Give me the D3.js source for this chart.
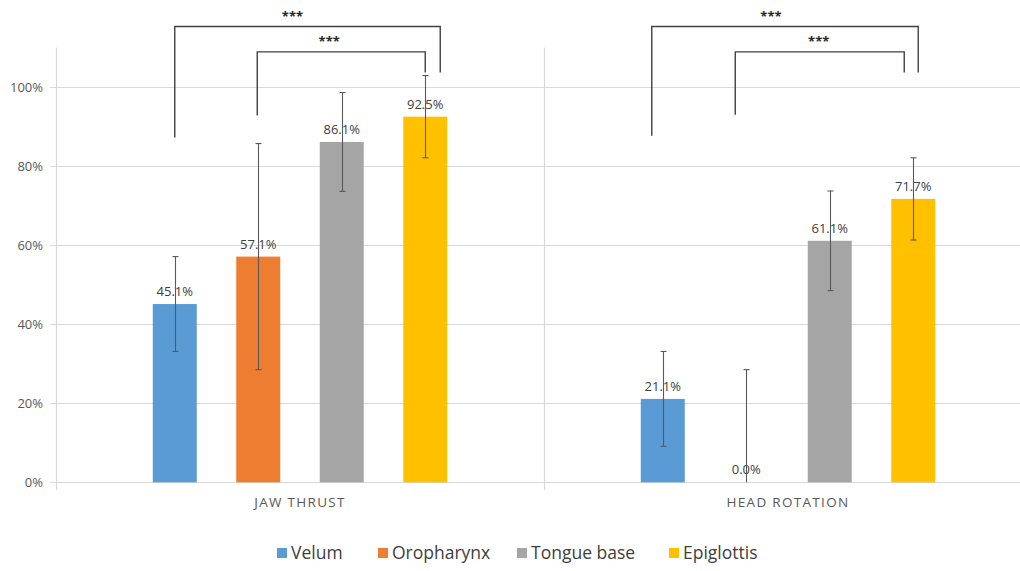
<!DOCTYPE html>
<html>
<head>
<meta charset="utf-8">
<script src="https://cdn.jsdelivr.net/npm/d3@7"></script>
<style>
  html, body { margin: 0; padding: 0; background: #fff; }
  svg { display: block; font-family: "Open Sans", "Noto Sans", sans-serif; }
</style>
</head>
<body>
<svg id="chart" width="1020" height="571"></svg>
<script>
// Success rates (%) by manoeuvre and airway level
const groups = ["JAW THRUST", "HEAD ROTATION"];
const series = ["Velum", "Oropharynx", "Tongue base", "Epiglottis"];
const seriesColors = ["#5b9bd5", "#ed7d31", "#a5a5a5", "#ffc000"];
const jawThrust = [45.1, 57.1, 86.1, 92.5];
const headRotation = [21.1, 0.0, 61.1, 71.7];
const jawThrustErr = [12.0, 28.6, 12.5, 10.4];
const headRotationErr = [12.0, 28.5, 12.6, 10.4];
const yTicks = [0, 20, 40, 60, 80, 100];
const yMax = 110;

// Significance brackets: group, left series, right series, label
const brackets = [
  { group: "JAW THRUST", from: "Velum", to: "Epiglottis", label: "***" },
  { group: "JAW THRUST", from: "Oropharynx", to: "Epiglottis", label: "***" },
  { group: "HEAD ROTATION", from: "Velum", to: "Epiglottis", label: "***" },
  { group: "HEAD ROTATION", from: "Oropharynx", to: "Epiglottis", label: "***" }
];

const values = { "JAW THRUST": jawThrust, "HEAD ROTATION": headRotation };
const errors = { "JAW THRUST": jawThrustErr, "HEAD ROTATION": headRotationErr };

const svg = d3.select("#chart");
const plot = { left: 56, right: 1032, top: 47.5, bottom: 482.3 };

const x0 = d3.scaleBand().domain(groups).range([plot.left, plot.right]);
const x1 = d3.scaleBand().domain(series).range([0, x0.bandwidth()])
  .paddingInner(0.473).paddingOuter(1.159);
const y = d3.scaleLinear().domain([0, yMax]).range([plot.bottom, plot.top]);
const color = d3.scaleOrdinal().domain(series).range(seriesColors);

const gridColor = "#d9d9d9";

// horizontal gridlines
svg.append("g")
  .selectAll("line")
  .data(yTicks)
  .join("line")
  .attr("x1", plot.left - 6)
  .attr("x2", plot.right)
  .attr("y1", d => Math.round(y(d)) + 0.5)
  .attr("y2", d => Math.round(y(d)) + 0.5)
  .attr("stroke", gridColor)
  .attr("stroke-width", 1.2);

// y axis labels
const yAxis = d3.axisLeft(y).tickValues(yTicks).tickFormat(d => d + "%").tickSize(0).tickPadding(13);
const yG = svg.append("g").attr("transform", `translate(${plot.left},0)`).call(yAxis);
yG.select(".domain").remove();
yG.selectAll("text").attr("fill", "#595959").style("font-size", "13px")
  .style("font-family", "'Open Sans', sans-serif");

// category boundaries (left axis and divider)
const boundaries = groups.map(g => x0(g));
svg.append("g")
  .selectAll("line")
  .data(boundaries)
  .join("line")
  .attr("x1", d => Math.round(d) + 0.5)
  .attr("x2", d => Math.round(d) + 0.5)
  .attr("y1", plot.top)
  .attr("y2", plot.bottom + 8)
  .attr("stroke", gridColor)
  .attr("stroke-width", 1.2);

// x axis category labels
const xAxis = d3.axisBottom(x0).tickSize(0).tickPadding(15);
const xG = svg.append("g").attr("transform", `translate(0,${plot.bottom})`).call(xAxis);
xG.select(".domain").remove();
xG.selectAll("text").attr("fill", "#595959").style("font-size", "13.5px")
  .style("letter-spacing", "1.3px").style("font-family", "'Open Sans', sans-serif");

// bars
const rows = groups.flatMap(g => series.map((s, i) => ({
  group: g, series: s, value: values[g][i], err: errors[g][i]
})));

const barG = svg.append("g");
barG.selectAll("rect")
  .data(rows)
  .join("rect")
  .attr("x", d => x0(d.group) + x1(d.series))
  .attr("width", x1.bandwidth())
  .attr("y", d => y(d.value))
  .attr("height", d => y(0) - y(d.value))
  .attr("fill", d => color(d.series));

// value labels
svg.append("g")
  .selectAll("text")
  .data(rows)
  .join("text")
  .attr("x", d => x0(d.group) + x1(d.series) + x1.bandwidth() / 2)
  .attr("y", d => y(d.value) - 8)
  .attr("text-anchor", "middle")
  .attr("fill", "#404040")
  .style("font-size", "13px")
  .text(d => d.value.toFixed(1) + "%");

// error bars
const errG = svg.append("g").attr("stroke", "#595959").attr("stroke-width", 1.1);
const cx = d => x0(d.group) + x1(d.series) + x1.bandwidth() / 2;
rows.forEach(d => {
  const hi = d.value + d.err;
  const lo = Math.max(0, d.value - d.err);
  const xc = Math.round(cx(d)) + 0.5;
  errG.append("line").attr("x1", xc).attr("x2", xc).attr("y1", y(hi)).attr("y2", y(lo));
  errG.append("line").attr("x1", xc - 3).attr("x2", xc + 3).attr("y1", y(hi)).attr("y2", y(hi));
  if (d.value - d.err > 0) {
    errG.append("line").attr("x1", xc - 3).attr("x2", xc + 3).attr("y1", y(lo)).attr("y2", y(lo));
  }
});

// significance bracket geometry (levels in axis units, horizontal nudges in px)
const bracketLayout = [
  { top: 115.3, leftEnd: 87.2, rightEnd: 103.7, dxL: 0, dxR: 15, labelDx: -15 },
  { top: 108.9, leftEnd: 92.8, rightEnd: 103.7, dxL: -1, dxR: 0, labelDx: -12 },
  { top: 115.3, leftEnd: 87.7, rightEnd: 103.7, dxL: -11, dxR: 5, labelDx: -14 },
  { top: 108.9, leftEnd: 93.0, rightEnd: 103.7, dxL: -11, dxR: -9, labelDx: -1 }
];

const brG = svg.append("g");
brackets.forEach((b, i) => {
  const L = bracketLayout[i];
  const xl = x0(b.group) + x1(b.from) + x1.bandwidth() / 2 + L.dxL;
  const xr = x0(b.group) + x1(b.to) + x1.bandwidth() / 2 + L.dxR;
  const path = d3.path();
  path.moveTo(xl, y(L.leftEnd));
  path.lineTo(xl, y(L.top));
  path.lineTo(xr, y(L.top));
  path.lineTo(xr, y(L.rightEnd));
  brG.append("path")
    .attr("d", path.toString())
    .attr("fill", "none")
    .attr("stroke", "#404040")
    .attr("stroke-width", 1.4);
  brG.append("text")
    .attr("x", (xl + xr) / 2 + L.labelDx)
    .attr("y", y(L.top) - 6)
    .attr("text-anchor", "middle")
    .attr("fill", "#262626")
    .style("font-size", "13px")
    .style("font-weight", "bold")
    .text(b.label);
});

// legend
const legendX = [277, 378, 517, 669];
const legend = svg.append("g");
series.forEach((s, i) => {
  const g = legend.append("g").attr("transform", `translate(${legendX[i]},0)`);
  g.append("rect").attr("x", 0).attr("y", 548).attr("width", 10).attr("height", 10).attr("fill", color(s));
  g.append("text").attr("x", 14).attr("y", 559).attr("fill", "#404040")
    .style("font-size", "17.5px").text(s);
});
</script>
</body>
</html>
